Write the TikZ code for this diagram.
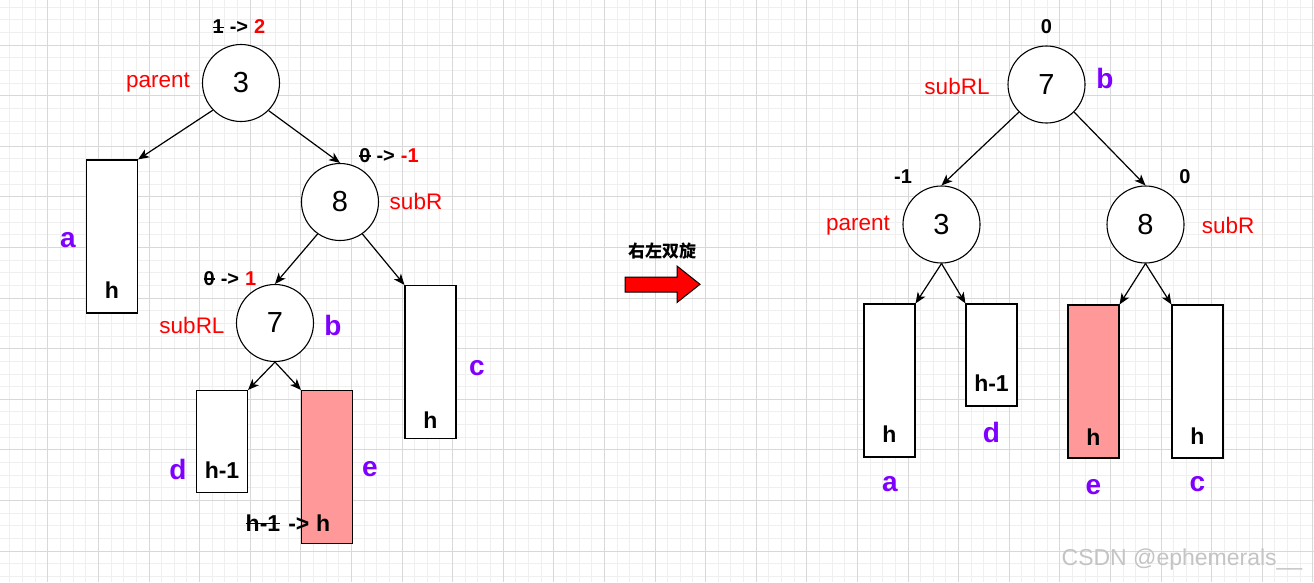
\documentclass[tikz,border=0pt]{standalone}
\usepackage{fontspec}
\setmainfont{Liberation Sans}
\newfontfamily\cjk{Noto Sans CJK SC}
\usetikzlibrary{arrows.meta}
\definecolor{gridminor}{HTML}{EFEFEF}
\definecolor{gridmajor}{HTML}{D8D8D8}
\definecolor{lblred}{HTML}{FF0000}
\definecolor{lblpurple}{HTML}{7F00FF}
\definecolor{pinkfill}{HTML}{FF9999}
\definecolor{wmgray}{HTML}{C4C4C4}
\newcommand\strk[1]{\setbox0=\hbox{#1}\rlap{\rule[0.42\ht0]{\wd0}{1.6pt}}\box0}
\newcommand\fs[1]{\fontsize{#1}{#1}\selectfont}
\begin{document}
\begin{tikzpicture}[x=1pt,y=-1pt,
  circ/.style={circle,draw,line width=1.1pt,fill=white,minimum size=77pt,inner sep=0pt,font=\fs{29}},
  tallbox/.style={draw,line width=1.1pt,fill=white,minimum width=51pt,minimum height=153pt,inner sep=0pt},
  shortbox/.style={tallbox,minimum height=102pt},
  pinkbox/.style={tallbox,fill=pinkfill},
  hlbl/.style={font=\fs{23}\bfseries,inner sep=0pt},
  redlbl/.style={font=\fs{22.5},text=lblred,inner sep=0pt},
  purlbl/.style={font=\fs{28}\bfseries,text=lblpurple,inner sep=0pt},
  bal/.style={font=\fs{20}\bfseries,inner sep=0pt},
  edge/.style={line width=1.2pt,-{Stealth[length=11pt,width=9pt,inset=3pt]}}
]
\useasboundingbox (0,0) rectangle (1314,582);
\fill[white] (0,0) rectangle (1314,582);
% grid
\foreach \k in {0,...,103} {\pgfmathsetmacro\xx{9.75+12.65*\k}\draw[gridminor,line width=0.8pt] (\xx,0) -- (\xx,582);}
\foreach \k in {0,...,45} {\pgfmathsetmacro\yy{7.05+12.65*\k}\draw[gridminor,line width=0.8pt] (0,\yy) -- (1314,\yy);}
\foreach \k in {0,...,25} {\pgfmathsetmacro\xx{47.7+50.6*\k}\draw[gridmajor,line width=0.8pt] (\xx,0) -- (\xx,582);}
\foreach \k in {0,...,11} {\pgfmathsetmacro\yy{45+50.6*\k}\draw[gridmajor,line width=0.8pt] (0,\yy) -- (1314,\yy);}

% ---------------- left tree
\node[circ] (L3) at (241,83) {3};
\node[circ] (L8) at (340,202) {8};
\node[circ] (L7) at (275,323) {7};
\node[tallbox] (La) at (112,236.5) {};
\node[tallbox] (Lc) at (430.5,362) {};
\node[shortbox] (Ld) at (222,441.5) {};
\node[pinkbox] (Le) at (327,467) {};

\node[hlbl] (Lah) at (112,290) {h};
\node[hlbl] (Lch) at (430.5,420) {h};
\node[hlbl] (Ldh) at (222,470) {h-1};

\draw[edge] (L3.224) -- (La.north east);
\draw[edge] (L3.315) -- (L8.north);
\draw[edge] (L8.235) -- (L7.north);
\draw[edge] (L8.305) -- (Lc.north west);
\draw[edge] (L7.south) -- (Ld.north east);
\draw[edge] (L7.south) -- (Le.north west);

\node[redlbl] (Lpar) at (158,83) {parent};
\node[redlbl] (LsubR) at (416,201) {subR};
\node[redlbl] (LsubRL) at (192,325) {subRL};

\node[purlbl] (Lla) at (68,240) {a};
\node[purlbl] (Llb) at (333,325) {b};
\node[purlbl] (Llc) at (477,368) {c};
\node[purlbl] (Lld) at (178,469) {d};
\node[purlbl] (Lle) at (370,469) {e};

\node[bal] (Lb3) at (239,27) {\strk{1}\hspace{0.3em}->\hspace{0.3em}\textcolor{lblred}{2}};
\node[bal] (Lb8) at (389,156) {\strk{0}\hspace{0.3em}->\hspace{0.3em}\textcolor{lblred}{-1}};
\node[bal] (Lb7) at (230,279) {\strk{0}\hspace{0.3em}->\hspace{0.3em}\textcolor{lblred}{1}};
\node[hlbl] (Lbe) at (288,523) {\strk{h-1}\hspace{0.35em}->\hspace{0.3em}h};

% ---------------- arrow
\node[font=\cjk\bfseries\fs{17},inner sep=0pt] (rot) at (662,251) {右左双旋};
\draw[line width=1pt,fill=red] (625,277) -- (677,277) -- (677,266) -- (700,284.3) -- (677,302.5) -- (677,292) -- (625,292) -- cycle;

% ---------------- right tree
\node[circ] (R7) at (1046.5,84.5) {7};
\node[circ] (R3) at (941.5,224.5) {3};
\node[circ] (R8) at (1145.5,224.5) {8};
\node[tallbox] (Ra) at (889.5,380.5) {};
\node[shortbox] (Rd) at (991.5,355) {};
\node[pinkbox] (Re) at (1093.5,381.5) {};
\node[tallbox] (Rc) at (1197.5,381.5) {};

\node[hlbl] (Rah) at (889.5,434) {h};
\node[hlbl] (Rdh) at (991.5,383) {h-1};
\node[hlbl] (Reh) at (1093.5,437) {h};
\node[hlbl] (Rch) at (1197.5,436) {h};

\draw[edge] (R7.225) -- (R3.north);
\draw[edge] (R7.315) -- (R8.north);
\draw[edge] (R3.south) -- (Ra.north east);
\draw[edge] (R3.south) -- (Rd.north west);
\draw[edge] (R8.south) -- (Re.north east);
\draw[edge] (R8.south) -- (Rc.north west);

\node[redlbl] (RsubRL) at (957,86) {subRL};
\node[redlbl] (Rpar) at (858,226) {parent};
\node[redlbl] (RsubR) at (1228,225) {subR};

\node[purlbl] (Rlb) at (1105,78) {b};
\node[purlbl] (Rld) at (991.5,432) {d};
\node[purlbl] (Rla) at (890,484) {a};
\node[purlbl] (Rle) at (1093.5,487) {e};
\node[purlbl] (Rlc) at (1197.5,484) {c};

\node[bal] (Rb7) at (1046.5,27) {0};
\node[bal] (Rb3) at (903,177) {-1};
\node[bal] (Rb8) at (1185,177) {0};

\node[font=\fs{23},text=wmgray,inner sep=0pt] (wm) at (1182,560) {CSDN @ephemerals\_\_};
\end{tikzpicture}
\end{document}
